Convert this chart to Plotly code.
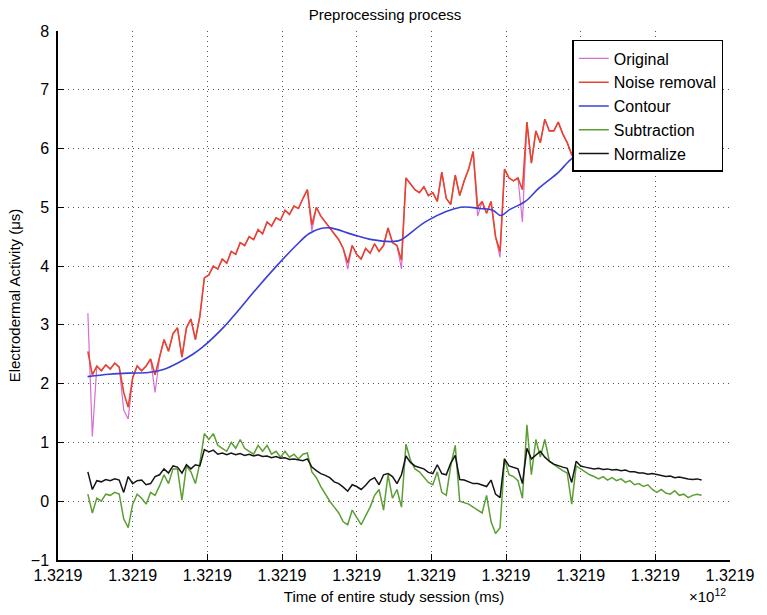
import plotly.graph_objects as go

# Session clock: first tick of the time axis (ms since epoch) and tick spacing (ms)
session_start_ms = 1321900000000
tick_step_ms = 500000
n_ticks = 10

# Uniformly sampled EDA signals, one sample every 30 s starting 200 s into the session
sample_start_s = 200
sample_step_s = 30

noise_removal = [
    2.55, 2.15, 2.30, 2.22, 2.32, 2.25, 2.35, 2.28, 1.85, 1.60,
    2.10, 2.30, 2.22, 2.30, 2.42, 2.15, 2.45, 2.75, 2.55, 2.85,
    2.95, 2.45, 2.95, 3.10, 2.75, 3.15, 3.80, 3.85, 4.00, 3.95,
    4.12, 4.05, 4.25, 4.20, 4.40, 4.35, 4.50, 4.45, 4.62, 4.55,
    4.75, 4.68, 4.82, 4.78, 4.95, 4.88, 5.02, 4.98, 5.15, 5.30,
    4.70, 5.00, 4.85, 4.75, 4.65, 4.55, 4.45, 4.30, 4.05, 4.35,
    4.20, 4.12, 4.30, 4.22, 4.38, 4.25, 4.35, 4.65, 4.40, 4.35,
    4.10, 5.50, 5.40, 5.30, 5.25, 5.35, 5.20, 5.25, 5.10, 5.60,
    5.15, 5.05, 5.55, 5.20, 5.45, 5.65, 5.95, 5.00, 5.10, 4.90,
    5.10, 4.50, 4.25, 5.65, 5.50, 5.45, 5.50, 5.30, 6.45, 5.75,
    6.30, 6.10, 6.50, 6.30, 6.30, 6.45, 6.25, 6.10, 5.90, 5.95,
    6.40, 6.55, 6.60, 6.50, 6.55, 6.60, 6.50, 6.60, 6.50, 6.55,
    6.48, 6.55, 6.50, 6.60, 6.55, 6.60, 6.50, 6.45, 6.55, 6.50,
    6.48, 6.58, 6.50, 6.55, 6.48, 6.52, 6.55, 6.50,
]

# Raw recording: identical to the filtered trace except at the artefact samples
original_artefacts = {
    0: 3.20, 1: 1.10, 8: 1.55, 9: 1.40, 15: 1.85, 50: 4.60,
    58: 3.95, 70: 3.95, 87: 4.85, 92: 4.15, 97: 4.75, 109: 5.65,
}

subtraction = [
    0.12, -0.20, 0.05, 0.00, 0.12, 0.10, 0.15, 0.12, -0.30, -0.45,
    -0.05, 0.12, 0.05, -0.05, 0.15, 0.10, 0.26, 0.45, 0.30, 0.55,
    0.55, 0.02, 0.60, 0.50, 0.30, 0.65, 1.15, 1.05, 1.15, 0.95,
    0.90, 0.85, 1.00, 0.90, 1.05, 0.90, 0.85, 0.80, 0.95, 0.85,
    0.95, 0.80, 0.85, 0.75, 0.85, 0.75, 0.80, 0.72, 0.80, 0.82,
    0.50, 0.40, 0.25, 0.12, 0.00, -0.10, -0.20, -0.35, -0.40, -0.15,
    -0.28, -0.40, -0.25, -0.10, 0.10, 0.20, -0.15, 0.45, 0.05, 0.20,
    -0.10, 0.97, 0.70, 0.55, 0.50, 0.40, 0.32, 0.28, 0.50, 0.15,
    0.10, 0.60, 0.95, 0.00, -0.02, -0.05, -0.10, -0.15, -0.20, 0.10,
    -0.35, -0.55, -0.45, 0.72, 0.45, 0.42, 0.35, 0.05, 1.30, 0.45,
    1.05, 0.75, 1.05, 0.68, 0.62, 0.57, 0.52, 0.48, -0.05, 0.60,
    0.55, 0.50, 0.45, 0.42, 0.38, 0.42, 0.36, 0.40, 0.35, 0.38,
    0.32, 0.35, 0.28, 0.30, 0.25, 0.28, 0.20, 0.15, 0.20, 0.14,
    0.12, 0.18, 0.10, 0.12, 0.06, 0.10, 0.12, 0.10,
]

normalize = [
    0.50, 0.20, 0.35, 0.33, 0.37, 0.35, 0.38, 0.36, 0.15, 0.42,
    0.30, 0.35, 0.36, 0.28, 0.30, 0.42, 0.45, 0.55, 0.48, 0.60,
    0.58, 0.48, 0.62, 0.55, 0.62, 0.60, 0.88, 0.84, 0.87, 0.80,
    0.82, 0.79, 0.82, 0.79, 0.81, 0.78, 0.80, 0.77, 0.79, 0.76,
    0.77, 0.74, 0.76, 0.73, 0.74, 0.71, 0.72, 0.70, 0.69, 0.72,
    0.58, 0.52, 0.47, 0.44, 0.40, 0.33, 0.30, 0.24, 0.17, 0.28,
    0.25, 0.20, 0.27, 0.36, 0.40, 0.28, 0.45, 0.47, 0.42, 0.30,
    0.45, 0.77, 0.66, 0.60, 0.58, 0.55, 0.49, 0.47, 0.62, 0.47,
    0.45, 0.65, 0.78, 0.37, 0.36, 0.33, 0.30, 0.30, 0.27, 0.25,
    0.36, 0.12, 0.06, 0.72, 0.60, 0.57, 0.55, 0.30, 0.90, 0.72,
    0.78, 0.85, 0.75, 0.68, 0.63, 0.60, 0.58, 0.56, 0.32, 0.68,
    0.60, 0.58, 0.57, 0.55, 0.56, 0.54, 0.55, 0.53, 0.54, 0.52,
    0.53, 0.50, 0.50, 0.48, 0.48, 0.46, 0.47, 0.45, 0.44, 0.42,
    0.43, 0.40, 0.41, 0.39, 0.38, 0.37, 0.38, 0.36,
]

# Slow tonic contour (seconds into the session, µS)
contour_t = [198, 343, 474, 606, 705, 823, 903, 968, 1113, 1199,
             1331, 1463, 1594, 1680, 1759, 1825, 1970, 2102, 2253, 2299,
             2471, 2695, 2826, 2912, 2965, 3024, 3129, 3222, 3353, 3419,
             3505, 3702, 3966, 4315]
contour_v = [2.12, 2.16, 2.18, 2.19, 2.24, 2.38, 2.50, 2.62, 2.97, 3.22,
             3.62, 4.00, 4.35, 4.55, 4.64, 4.65, 4.54, 4.45, 4.42, 4.45,
             4.77, 5.00, 4.98, 4.95, 4.86, 4.96, 5.10, 5.33, 5.60, 5.78,
             5.95, 6.15, 6.30, 6.45]

series_names = ["Original", "Noise removal", "Contour", "Subtraction", "Normalize"]
series_colors = ["#d46fd0", "#e8432c", "#3b3fd6", "#5c9e35", "#151515"]

# ---- build time stamps (ms) ----
sample_ms = [session_start_ms + (sample_start_s + sample_step_s * k) * 1000
             for k in range(len(noise_removal))]
contour_ms = [session_start_ms + t * 1000 for t in contour_t]
original = [original_artefacts.get(k, v) for k, v in enumerate(noise_removal)]

tick_vals = [session_start_ms + k * tick_step_ms for k in range(n_ticks)]
tick_text = [f"{v / 1e12:.4f}" for v in tick_vals]

FONT = "Liberation Sans, Arial, sans-serif"

fig = go.Figure()
traces = [
    (sample_ms, original, 1.2),
    (sample_ms, noise_removal, 1.6),
    (contour_ms, contour_v, 1.6),
    (sample_ms, subtraction, 1.5),
    (sample_ms, normalize, 1.5),
]
for (xs, ys, w), name, color in zip(traces, series_names, series_colors):
    fig.add_trace(go.Scatter(
        x=xs, y=ys, mode="lines", name=name,
        line=dict(color=color, width=w,
                  shape="spline" if name == "Contour" else "linear"),
    ))

grid = dict(showgrid=True, gridcolor="#555555", gridwidth=1, griddash="1px,4px")

fig.update_xaxes(
    range=[tick_vals[0], tick_vals[-1]],
    tickmode="array", tickvals=tick_vals, ticktext=tick_text,
    ticks="inside", ticklen=6, tickcolor="black",
    showline=True, linecolor="black", linewidth=1.5,
    zeroline=False,
    tickfont=dict(family=FONT, size=16, color="black"),
    title=dict(text="Time of entire study session (ms)",
               font=dict(family=FONT, size=15, color="black"), standoff=9),
    **grid,
)
fig.update_yaxes(
    range=[-1, 8], dtick=1, tick0=0,
    ticks="inside", ticklen=6, tickcolor="black",
    showline=True, linecolor="black", linewidth=1.5,
    zeroline=False,
    tickfont=dict(family=FONT, size=16, color="black"),
    ticklabelstandoff=4,
    title=dict(text="Electrodermal Activity (μs)",
               font=dict(family=FONT, size=15, color="black"), standoff=7),
    **grid,
)

fig.add_annotation(
    text="×10<sup>12</sup>", xref="paper", yref="paper",
    x=0.967, y=-0.068, xanchor="center", yanchor="middle", showarrow=False,
    font=dict(family=FONT, size=15, color="black"),
)

fig.update_layout(
    width=767, height=615,
    margin=dict(l=58, r=26, t=31, b=50),
    paper_bgcolor="white", plot_bgcolor="white",
    title=dict(text="Preprocessing process", x=0.502, xanchor="center",
               xref="container",
               y=1 - 15 / 615, yanchor="middle", yref="container",
               font=dict(family=FONT, size=15, color="black")),
    showlegend=True,
    legend=dict(
        x=0.99, xanchor="right", y=0.983, yanchor="top",
        bgcolor="white", bordercolor="black", borderwidth=1.5,
        font=dict(family=FONT, size=16, color="black"),
        itemwidth=30, tracegroupgap=0,
    ),
)

fig.write_html("out.html")
